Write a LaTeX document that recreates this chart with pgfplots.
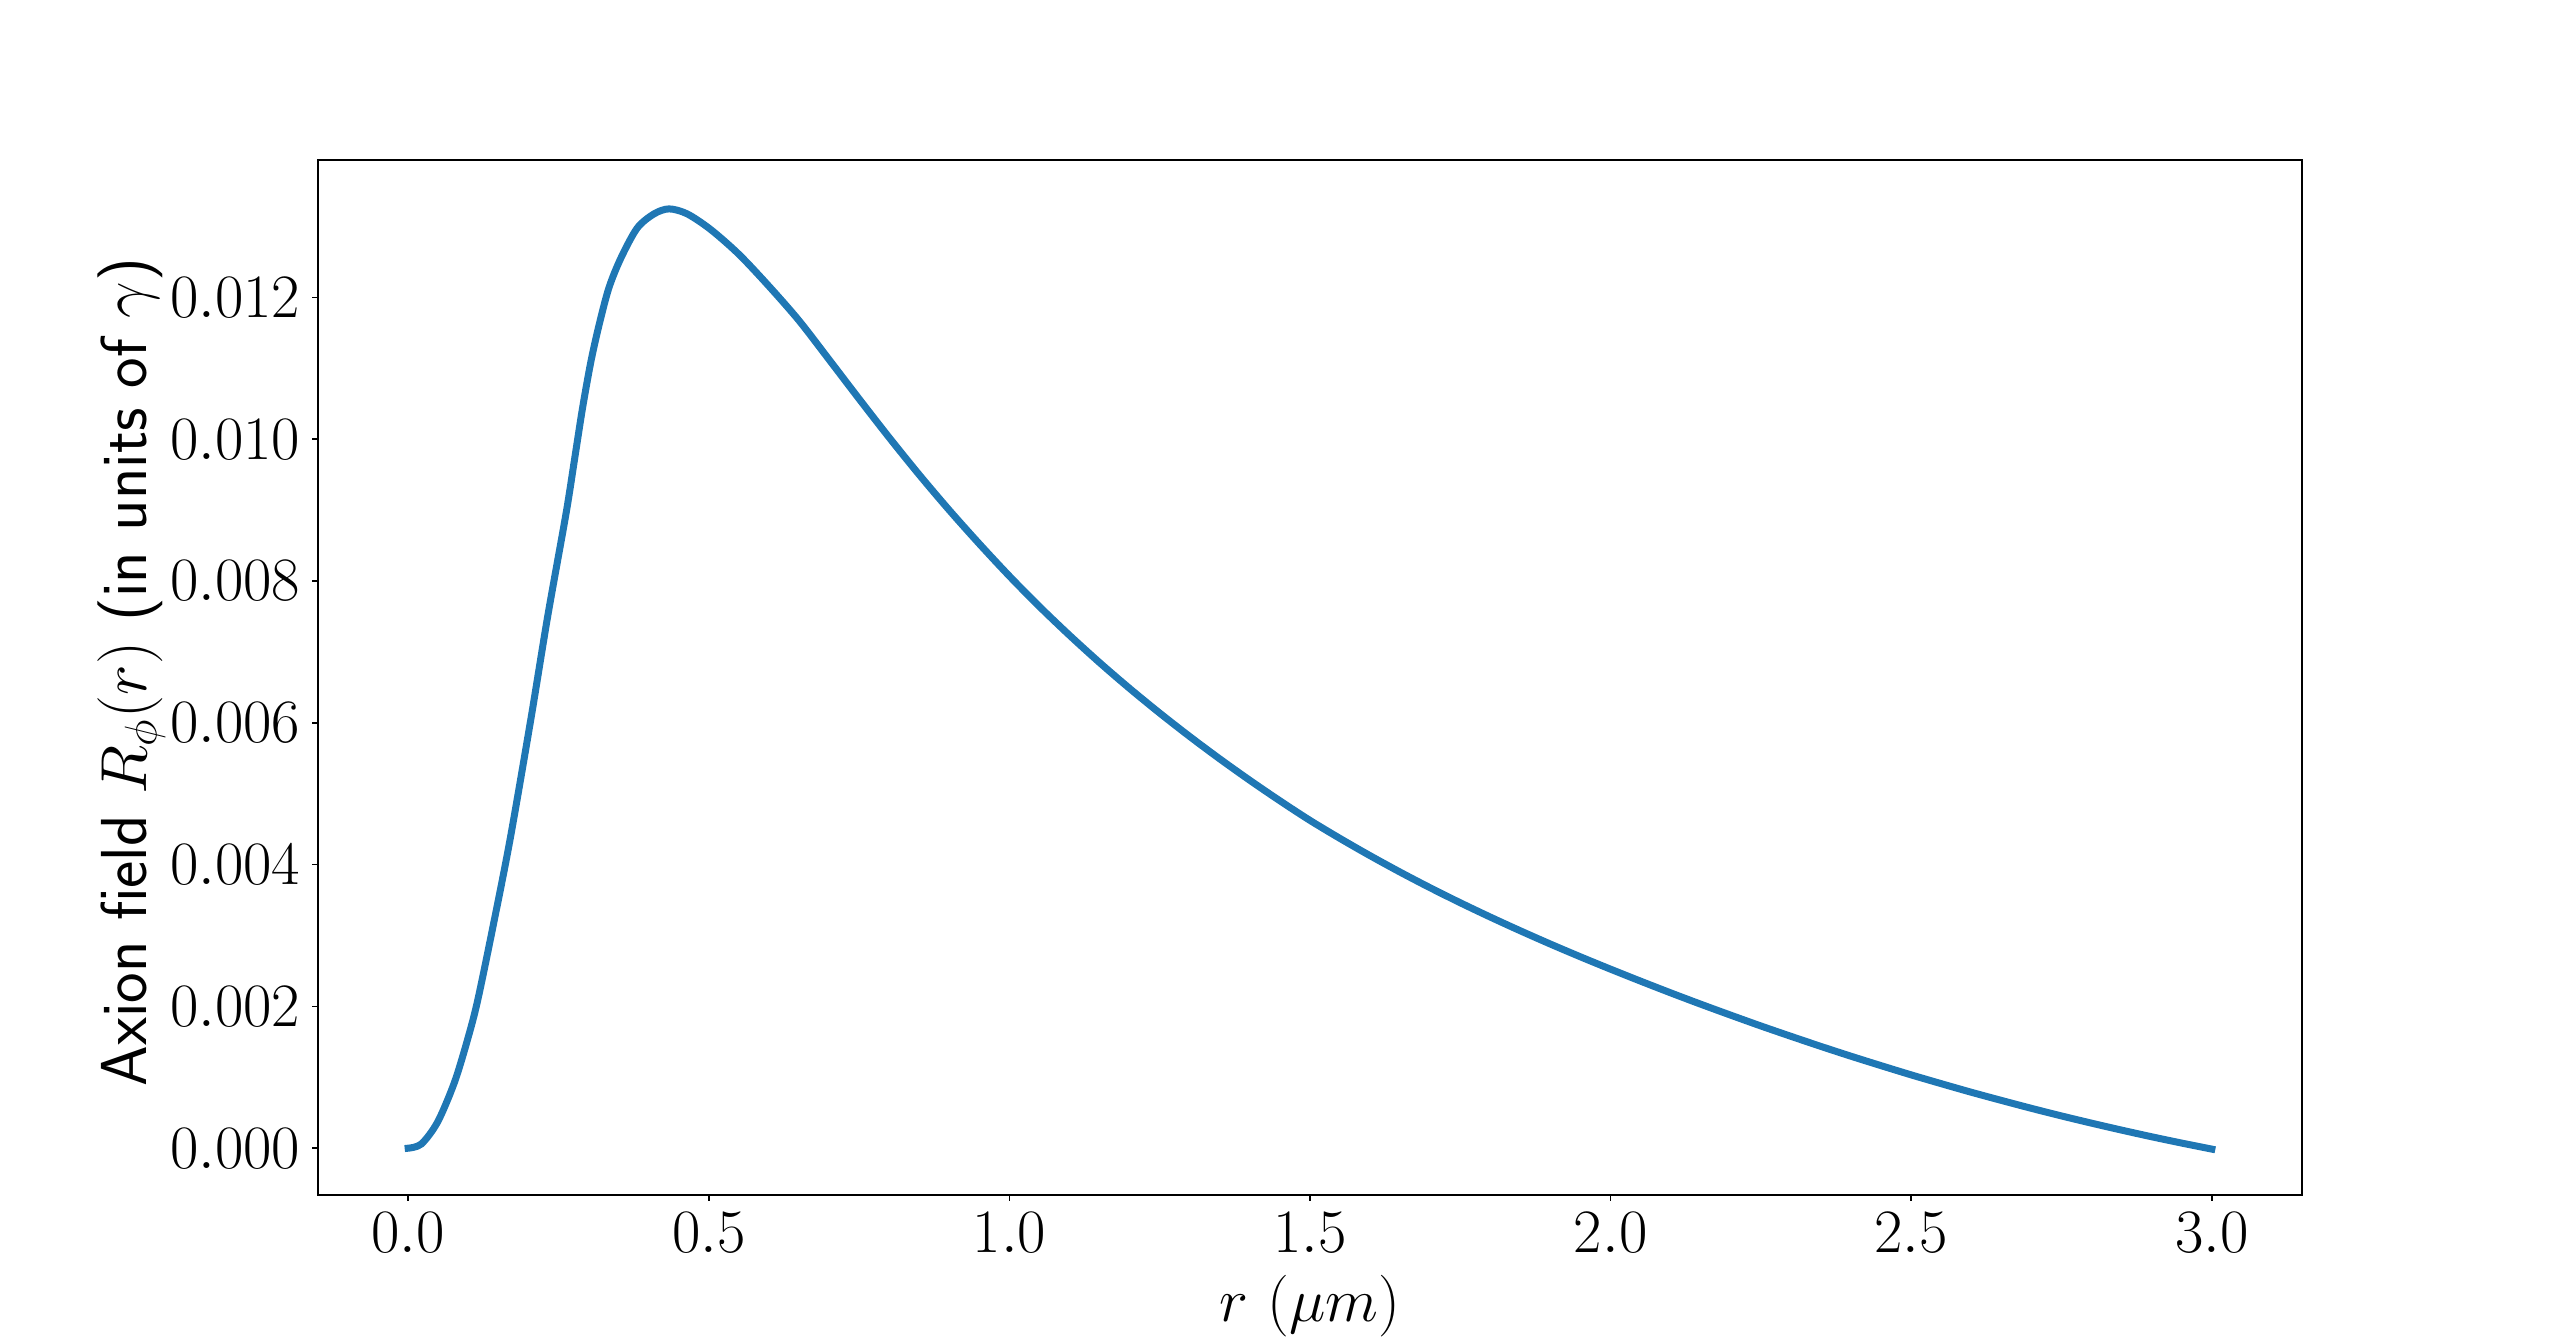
\RequirePackage{fix-cm}
\documentclass[border=0pt]{standalone}
\usepackage{pgfplots}
\pgfplotsset{compat=1.18}
\definecolor{c0}{HTML}{1F77B4}
\pgfplotstableread{
x y
0.000 0.00000
0.022 0.00006
0.049 0.00037
0.077 0.00093
0.099 0.00154
0.116 0.00210
0.144 0.00325
0.170 0.00438
0.204 0.00605
0.232 0.00750
0.2625 0.00895
0.2764 0.00970
0.290 0.01044
0.304 0.01110
0.318 0.01163
0.334 0.01214
0.354 0.01256
0.381 0.01298
0.409 0.01318
0.434 0.01325
0.464 0.01318
0.503 0.01296
0.550 0.01261
0.600 0.01216
0.650 0.011675
0.700 0.011125
0.750 0.01057
0.800 0.010025
0.850 0.00950
0.900 0.00900
0.950 0.008525
1.000 0.00807
1.050 0.00764
1.100 0.007235
1.150 0.00685
1.200 0.006485
1.250 0.006138
1.300 0.005807
1.350 0.005491
1.400 0.005189
1.450 0.004900
1.500 0.004624
1.550 0.004369
1.600 0.004126
1.650 0.003894
1.700 0.003673
1.750 0.003462
1.800 0.003260
1.850 0.003066
1.900 0.002879
1.950 0.002699
2.000 0.002525
2.050 0.002356
2.100 0.002191
2.150 0.002031
2.200 0.001876
2.250 0.001724
2.300 0.001578
2.350 0.001435
2.400 0.001297
2.450 0.001164
2.500 0.001034
2.550 0.000910
2.600 0.000789
2.650 0.000674
2.700 0.000562
2.750 0.000455
2.800 0.000353
2.850 0.000255
2.900 0.000161
2.950 0.000072
3.000 -0.000013
}\datatable
\begin{document}
\begin{tikzpicture}
\path[use as bounding box] (0,0) rectangle (768pt,402.9pt);
\begin{axis}[
  at={(95.4pt,44.4pt)}, anchor=south west,
  scale only axis, width=595.2pt, height=310.5pt,
  xmin=-0.15, xmax=3.15, ymin=-0.00066, ymax=0.01394,
  xtick={0,0.5,1,1.5,2,2.5,3},
  ytick={0,0.002,0.004,0.006,0.008,0.010,0.012},
  tick align=outside, tick pos=left, major tick length=1.8pt,
  axis line style={line width=0.5pt},
  every tick/.style={line width=0.5pt, black},
  scaled y ticks=false, scaled x ticks=false,
  yticklabel style={/pgf/number format/fixed, /pgf/number format/precision=3, /pgf/number format/fixed zerofill},
  xticklabel style={/pgf/number format/fixed, /pgf/number format/precision=1, /pgf/number format/fixed zerofill},
  ticklabel style={font=\fontsize{18.5}{22}\selectfont},
  xlabel style={font=\fontsize{18.5}{22}\selectfont},
  ylabel style={font=\fontsize{19.5}{23}\selectfont, at={(axis description cs:-0.094,0.505)}, anchor=center},
  xlabel={$r$ ($\mu m$)},
  ylabel={\sffamily Axion field $R_\phi(r)$ (in units of $\gamma$)},
]
\addplot[c0, line width=2.1pt, line cap=rect, smooth, tension=0.5] table[x=x,y=y] {\datatable};
\end{axis}
\end{tikzpicture}
\end{document}
